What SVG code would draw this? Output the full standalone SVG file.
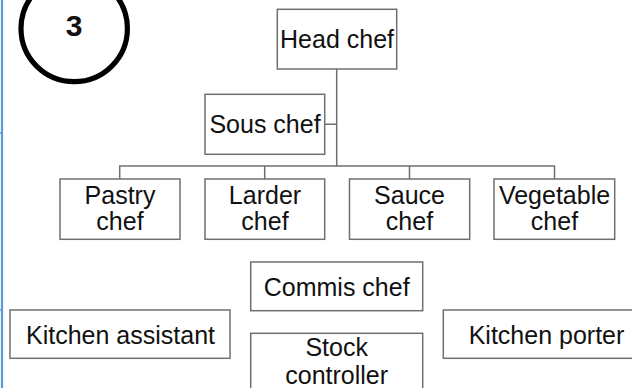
<svg xmlns="http://www.w3.org/2000/svg" width="632" height="388" viewBox="0 0 632 388">
<style>
.box{fill:#fff;stroke:#707070;stroke-width:1.5}
.t{font-family:"Liberation Sans",Arial,sans-serif;font-size:25px;fill:#111;text-anchor:middle}
.c{fill:none;stroke:#707070;stroke-width:1.5}
</style>
<rect width="632" height="388" fill="#fff"/>
<g id="edge">
<line x1="2" y1="0" x2="2" y2="388" stroke="#5b9bd5" stroke-width="2.2"/>
<line x1="0" y1="133" x2="2" y2="133" stroke="#5b9bd5" stroke-width="1.5"/>
<line x1="0" y1="310" x2="2" y2="310" stroke="#5b9bd5" stroke-width="1.5"/>
</g>
<g id="badge">
<circle cx="74.2" cy="28.5" r="53.2" fill="none" stroke="#000" stroke-width="5.2"/>
<text x="74" y="36" font-family="'Liberation Sans',Arial,sans-serif" font-weight="bold" font-size="30" text-anchor="middle" fill="#111">3</text>
</g>
<g id="connectors">
<path class="c" d="M336.7 69V166M325 124.3H336.7M119.7 179V166H554.5V179M264.7 166V179M409.5 166V179"/>
</g>
<g id="head-chef"><rect class="box" x="277.3" y="9.3" width="119.4" height="59.7"/><text class="t" x="337" y="48">Head chef</text></g>
<g id="sous-chef"><rect class="box" x="205" y="94.3" width="119.7" height="60"/><text class="t" x="265" y="133">Sous chef</text></g>
<g id="pastry-chef"><rect class="box" x="60" y="179" width="120" height="60.3"/><text class="t" x="120" y="204">Pastry</text><text class="t" x="120" y="230">chef</text></g>
<g id="larder-chef"><rect class="box" x="205" y="179" width="119.7" height="60.3"/><text class="t" x="265" y="204">Larder</text><text class="t" x="265" y="230">chef</text></g>
<g id="sauce-chef"><rect class="box" x="349.5" y="179" width="120.2" height="60.3"/><text class="t" x="409.5" y="204">Sauce</text><text class="t" x="409.5" y="230">chef</text></g>
<g id="vegetable-chef"><rect class="box" x="494" y="179" width="120.7" height="60.3"/><text class="t" x="554.5" y="204">Vegetable</text><text class="t" x="554.5" y="230">chef</text></g>
<g id="commis-chef"><rect class="box" x="250.7" y="262" width="172" height="48.7"/><text class="t" x="336.7" y="295.5">Commis chef</text></g>
<g id="kitchen-assistant"><rect class="box" x="10" y="310" width="220" height="48.3"/><text class="t" x="120.5" y="344">Kitchen assistant</text></g>
<g id="stock-controller"><rect class="box" x="250.7" y="333.3" width="172" height="60"/><text class="t" x="336.7" y="356">Stock</text><text class="t" x="336.7" y="384">controller</text></g>
<g id="kitchen-porter"><rect class="box" x="443.3" y="310" width="200" height="48.3"/><text class="t" x="546.5" y="344">Kitchen porter</text></g>
</svg>
